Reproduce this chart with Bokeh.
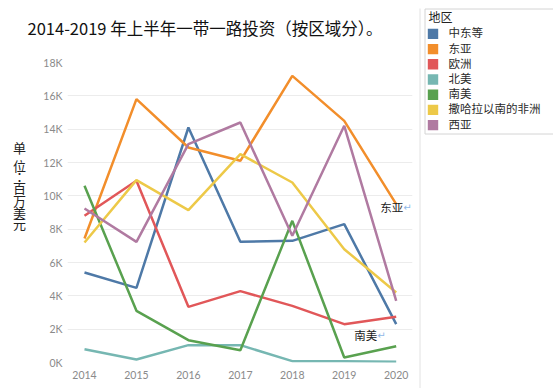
from bokeh.plotting import figure
from bokeh.models import Label, FixedTicker, Range1d
from bokeh.layouts import row, column
from bokeh.core.properties import value
from bokeh.embed import file_html
from bokeh.resources import INLINE

title_text = "2014-2019 年上半年一带一路投资（按区域分）。"
y_title_chars = ["单", "位", "：", "百", "万", "美", "元"]
legend_title = "地区"

years = [2014, 2015, 2016, 2017, 2018, 2019, 2020]
regions = ["中东等", "东亚", "欧洲", "北美", "南美", "撒哈拉以南的非洲", "西亚"]
colors = ["#4E79A7", "#F28E2B", "#E15759", "#76B7B2", "#59A14F", "#EDC948", "#B07AA1"]

mideast = [5400, 4480, 14100, 7240, 7300, 8300, 2300]
east_asia = [7440, 15800, 12900, 12100, 17200, 14500, 9500]
europe = [8800, 10900, 3340, 4280, 3400, 2300, 2740]
north_america = [800, 180, 1040, 1040, 80, 80, 40]
south_america = [10600, 3100, 1340, 740, 8500, 300, 980]
subsaharan = [7200, 10940, 9140, 12500, 10800, 6800, 4200]
west_asia = [9240, 7240, 13100, 14400, 7600, 14200, 3700]
series = [mideast, east_asia, europe, north_america, south_america, subsaharan, west_asia]

y_ticks = [0, 2000, 4000, 6000, 8000, 10000, 12000, 14000, 16000, 18000]
y_tick_labels = ["0K", "2K", "4K", "6K", "8K", "10K", "12K", "14K", "16K", "18K"]

CJK = value("Noto Sans CJK SC")


def helper(x0, x1, y0, y1):
    """A bare figure whose data coordinates are the picture's pixels (y down)."""
    f = figure(width=x1 - x0, height=y1 - y0,
               x_range=Range1d(x0, x1), y_range=Range1d(y1, y0),
               x_axis_location=None, y_axis_location=None,
               min_border=0, output_backend="svg", toolbar_location=None)
    f.outline_line_color = None
    f.grid.visible = False
    f.background_fill_color = "white"
    f.border_fill_color = "white"
    return f


LEFT_W = 416
RIGHT_W = 137
TOP_H = 55
TOTAL_H = 388

# ---- title strip
t = helper(0, LEFT_W, 0, TOP_H)
t.text(x=[27], y=[27], text=[title_text], text_font=CJK,
       text_font_size=value("16.5px"), text_color="#111111",
       text_baseline="middle", text_align="left")

# ---- vertical y title
yt = helper(0, 30, TOP_H, TOTAL_H)
char_y = [149, 169, 181, 194, 208, 221, 234]
yt.text(x=[19] * len(y_title_chars), y=char_y, text=y_title_chars,
        text_font=value("Noto Sans CJK TC"),
        text_font_size=value("13px"), text_color="#222222",
        text_baseline="middle", text_align="center")

# ---- main chart
p = figure(frame_width=345, frame_height=300,
           x_range=Range1d(2013.6728, 2020.3137), y_range=Range1d(0, 18000),
           min_border_left=37, min_border_right=LEFT_W - 30 - 37 - 345,
           min_border_top=7, min_border_bottom=TOTAL_H - TOP_H - 7 - 300,
           output_backend="svg", toolbar_location=None)
p.outline_line_color = None
p.background_fill_color = "white"
p.border_fill_color = "white"
p.xgrid.grid_line_color = None
p.ygrid.grid_line_color = "#ececec"
p.ygrid.ticker = FixedTicker(ticks=y_ticks)

for ax in (p.xaxis[0], p.yaxis[0]):
    ax.axis_line_color = None
    ax.major_tick_line_color = None
    ax.minor_tick_line_color = None
    ax.major_tick_out = 0
    ax.major_tick_in = 0
    ax.major_label_text_font = "Lato"
    ax.major_label_text_font_size = "10.5px"
    ax.major_label_text_color = "#8a8a8a"

p.xaxis.ticker = FixedTicker(ticks=years)
p.xaxis.major_label_standoff = 8
p.yaxis.ticker = FixedTicker(ticks=y_ticks)
p.yaxis.major_label_overrides = {tk: lb for tk, lb in zip(y_ticks, y_tick_labels)}
p.yaxis.major_label_standoff = 5

for vals, col in zip(series, colors):
    p.line(years, vals, line_color=col, line_width=2.5)

for idx, dx, dy in [(1, 7, -3), (4, -19, 11)]:
    p.add_layout(Label(x=years[-1], y=series[idx][-1], x_offset=dx, y_offset=dy,
                       text=regions[idx], text_font="Noto Sans CJK SC",
                       text_font_size="11.5px", text_color="#222222",
                       text_align="right", text_baseline="middle"))
    p.add_layout(Label(x=years[-1], y=series[idx][-1], x_offset=dx, y_offset=dy,
                       text="↵", text_font="DejaVu Sans",
                       text_font_size="10px", text_color="#8fb8e8",
                       text_align="left", text_baseline="middle"))

# ---- legend panel
lg = helper(LEFT_W, LEFT_W + RIGHT_W, 0, TOTAL_H)
lg.segment(x0=[419.5], y0=[8], x1=[419.5], y1=[TOTAL_H], line_color="#e2e2e2", line_width=1)
lg.quad(left=[424.5], right=[556], top=[8.5], bottom=[133.5],
        fill_color="white", line_color="#d4d4d4", line_width=1)
lg.text(x=[428], y=[16], text=[legend_title], text_font=CJK,
        text_font_size=value("12px"), text_color="#222222",
        text_baseline="middle", text_align="left")
row_y = [33.4 + 15.2 * i for i in range(len(regions))]
lg.quad(left=[427.3] * len(regions), right=[437.7] * len(regions),
        top=[yy - 5.2 for yy in row_y], bottom=[yy + 5.2 for yy in row_y],
        fill_color=colors, line_color=None)
lg.text(x=[448] * len(regions), y=[yy - 1.5 for yy in row_y], text=regions,
        text_font=CJK, text_font_size=value("11.5px"), text_color="#2a2a2a",
        text_baseline="middle", text_align="left")

layout = row(column(t, row(yt, p)), lg)
open("out.html", "w").write(file_html(layout, INLINE))
